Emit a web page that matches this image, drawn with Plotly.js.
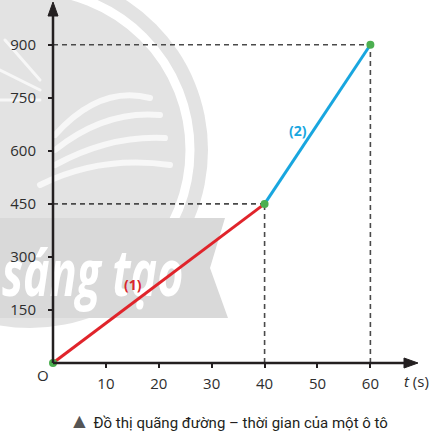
<!DOCTYPE html>
<html>
<head>
<meta charset="utf-8">
<script src="https://cdn.plot.ly/plotly-3.0.1.min.js"></script>
<style>
  html, body { margin: 0; padding: 0; background: #ffffff; }
  #wrap { position: relative; width: 440px; height: 439px; overflow: hidden; }
  #wm { position: absolute; left: 0; top: 0; z-index: 0; }
  #chart { position: absolute; left: 0; top: 0; width: 440px; height: 439px; z-index: 1; }
</style>
</head>
<body>
<div id="wrap">
  <svg id="wm" width="440" height="439">
    <circle cx="30" cy="150" r="178" fill="#e3e3e3"/>
    <circle cx="30" cy="150" r="160" fill="none" stroke="#ffffff" stroke-width="9"/>
    <g fill="none" stroke="#f7f7f7" stroke-linecap="round">
      <path d="M 55 135 Q 100 85 150 98" stroke-width="6"/>
      <path d="M 55 150 Q 105 110 160 115" stroke-width="6"/>
      <path d="M 55 165 Q 110 135 165 138" stroke-width="6"/>
      <path d="M 40 185 Q 100 155 170 165" stroke-width="6"/>
      <path d="M 0 70 L 40 90" stroke-width="3"/>
      <path d="M 5 40 L 40 80" stroke-width="3"/>
      <path d="M 0 100 L 40 100" stroke-width="3"/>
    </g>
    <path d="M 0 218 L 225 218 L 210 268 L 228 318 L 0 318 Z" fill="#d9d9d9"/>
    <g transform="translate(2,296) scale(0.72,1.05)">
      <text x="0" y="0" fill="#ffffff" font-family="Open Sans, sans-serif" font-style="italic" font-weight="bold" font-size="62">sáng tạo</text>
    </g>
  </svg>
  <div id="chart"></div>
</div>
<script>
// ---- data ----
var seg1_t = [0, 40];
var seg1_s = [0, 450];
var seg2_t = [40, 60];
var seg2_s = [450, 900];
var point_t = [0, 40, 60];
var point_s = [0, 450, 900];
var xTicks = [10, 20, 30, 40, 50, 60];
var yTicks = [150, 300, 450, 600, 750, 900];
var label1 = {t: 15.2, s: 222, text: '(1)'};
var label2 = {t: 46.3, s: 657, text: '(2)'};

var dashColor = '#4a4a4a';
var traces = [];
// dashed guide lines from the key points
[[seg1_t[1], seg1_s[1]], [seg2_t[1], seg2_s[1]]].forEach(function (p) {
  traces.push({x: [0, p[0]], y: [p[1], p[1]], mode: 'lines', type: 'scatter', hoverinfo: 'skip',
    line: {color: dashColor, width: 1.6, dash: '5px,4px'}, cliponaxis: false, showlegend: false});
  traces.push({x: [p[0], p[0]], y: [0, p[1]], mode: 'lines', type: 'scatter', hoverinfo: 'skip',
    line: {color: dashColor, width: 1.6, dash: '5px,4px'}, cliponaxis: false, showlegend: false});
});
traces.push({x: seg1_t, y: seg1_s, mode: 'lines', type: 'scatter', line: {color: '#e0242b', width: 3}, cliponaxis: false, showlegend: false});
traces.push({x: seg2_t, y: seg2_s, mode: 'lines', type: 'scatter', line: {color: '#18a6df', width: 3}, cliponaxis: false, showlegend: false});
traces.push({x: point_t, y: point_s, mode: 'markers', type: 'scatter', marker: {color: '#4caf50', size: 8}, cliponaxis: false, showlegend: false});

var axisColor = '#231f20';
var tickFont = {family: 'Open Sans, sans-serif', size: 15, color: '#2e2e2e'};

var layout = {
  width: 440, height: 439,
  margin: {l: 53, r: 22, t: 2, b: 76},
  paper_bgcolor: 'rgba(0,0,0,0)',
  plot_bgcolor: 'rgba(0,0,0,0)',
  showlegend: false,
  xaxis: {range: [0, 69], showgrid: false, zeroline: false, showline: false,
    tickvals: xTicks, ticktext: xTicks.map(String), ticks: 'outside', ticklen: 4, tickwidth: 2,
    tickcolor: axisColor, tickfont: tickFont, ticklabelstandoff: 3, fixedrange: true},
  yaxis: {range: [0, 1021], showgrid: false, zeroline: false, showline: false,
    tickvals: yTicks, ticktext: yTicks.map(String), ticks: 'outside', ticklen: 4, tickwidth: 2,
    tickcolor: axisColor, tickfont: tickFont, ticklabelstandoff: 9, fixedrange: true},
  shapes: [
    {type: 'line', xref: 'paper', yref: 'paper', x0: 0, x1: 0.985, y0: 0, y1: 0, line: {color: axisColor, width: 2.5}},
    {type: 'line', xref: 'paper', yref: 'paper', x0: 0, x1: 0, y0: 0, y1: 0.985, line: {color: axisColor, width: 2.5}},
    {type: 'path', xref: 'paper', yref: 'paper', xsizemode: 'pixel', ysizemode: 'pixel', xanchor: 1, yanchor: 0,
      path: 'M 0 0 L -14 5 L -14 -5 Z', fillcolor: axisColor, line: {color: axisColor, width: 1}},
    {type: 'path', xref: 'paper', yref: 'paper', xsizemode: 'pixel', ysizemode: 'pixel', xanchor: 0, yanchor: 1,
      path: 'M 0 0 L -5 -14 L 5 -14 Z', fillcolor: axisColor, line: {color: axisColor, width: 1}}
  ],
  annotations: [
    {x: label1.t, y: label1.s, xref: 'x', yref: 'y', text: '<b>' + label1.text + '</b>', showarrow: false,
      font: {family: 'Open Sans, sans-serif', size: 14, color: '#d9262c'}},
    {x: label2.t, y: label2.s, xref: 'x', yref: 'y', text: '<b>' + label2.text + '</b>', showarrow: false,
      font: {family: 'Open Sans, sans-serif', size: 14, color: '#18a6df'}},
    {x: 0, y: 0, xref: 'x', yref: 'y', xshift: -10, yshift: -12, text: 'O', showarrow: false,
      font: {family: 'Open Sans, sans-serif', size: 15, color: '#2e2e2e'}},
    {x: 69, y: 0, xref: 'x', yref: 'y', yshift: -18, xshift: -2, text: '<i>t</i> (s)', showarrow: false,
      font: {family: 'Open Sans, sans-serif', size: 15, color: '#2e2e2e'}},
    {x: 0.5, y: -0.16, xref: 'paper', yref: 'paper', xshift: -7, yanchor: 'middle',
      text: '<span style="color:#555555;font-size:21px">▲</span> Đồ thị quãng đường – thời gian của một ô tô', showarrow: false,
      font: {family: 'Roboto, sans-serif', size: 15, color: '#231f20'}}
  ]
};

Plotly.newPlot('chart', traces, layout, {displayModeBar: false, staticPlot: true});
</script>
</body>
</html>
